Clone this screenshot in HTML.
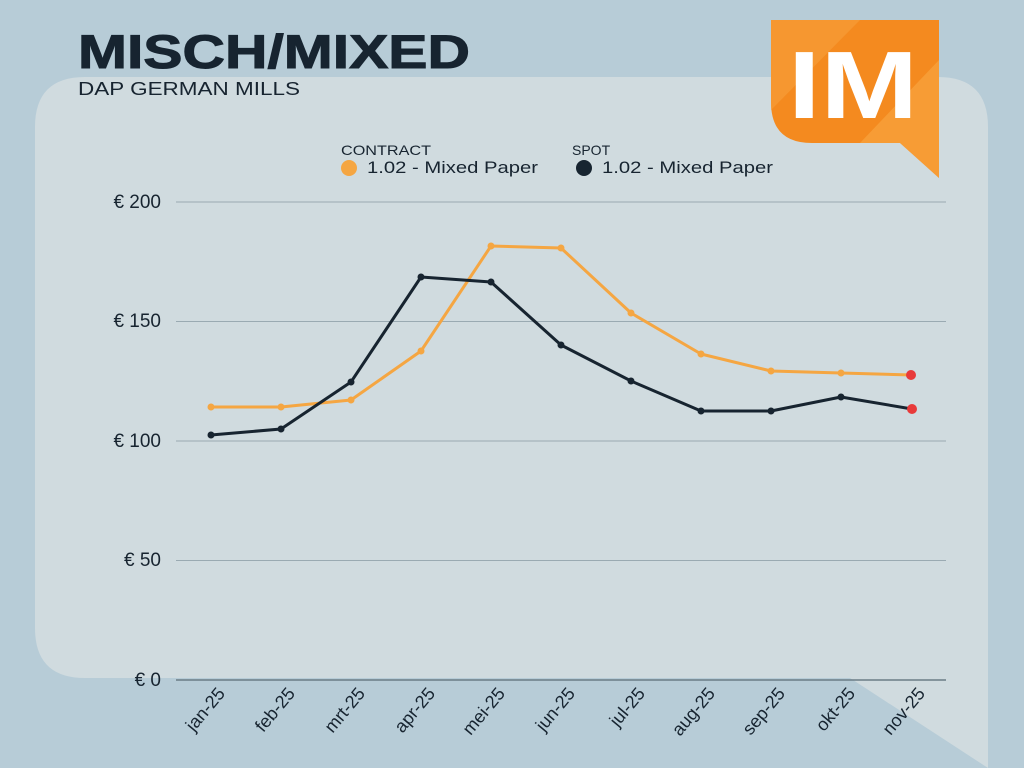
<!DOCTYPE html>
<html><head><meta charset="utf-8"><style>
body{margin:0;width:1024px;height:768px;overflow:hidden;background:#b7ccd7;font-family:"Liberation Sans",sans-serif}
</style></head><body>
<svg width="1024" height="768" viewBox="0 0 1024 768" style="position:absolute;left:0;top:0">
<path d="M85,77 H938 Q988,77 988,127 V768 L850,678 H85 Q35,678 35,628 V127 Q35,77 85,77 Z" fill="#d0dbdf"/>
<text x="78" y="68" font-size="47" font-weight="bold" fill="#172430" textLength="392" lengthAdjust="spacingAndGlyphs" stroke="#172430" stroke-width="1">MISCH/MIXED</text>
<text x="78" y="95" font-size="18" fill="#172430" textLength="222" lengthAdjust="spacingAndGlyphs">DAP GERMAN MILLS</text>
<g>
<path d="M771,20 H939 V178 L900,143 H812 Q771,143 771,102 Z" fill="#f48a1f"/>
<path d="M771,20 H860 L771,110 Z" fill="#f7a03c" opacity="0.6"/>
<path d="M860,143 L939,60 V178 L900,143 Z" fill="#f9a945" opacity="0.6"/>
<text x="788" y="118" font-size="96" font-weight="bold" fill="#fff" textLength="130" lengthAdjust="spacingAndGlyphs">IM</text>
</g>
<text x="341" y="155" font-size="14" fill="#172430" textLength="90" lengthAdjust="spacingAndGlyphs">CONTRACT</text>
<circle cx="349" cy="168" r="8" fill="#f5a642"/>
<text x="367" y="173" font-size="17" fill="#172430" textLength="171" lengthAdjust="spacingAndGlyphs">1.02 - Mixed Paper</text>
<text x="572" y="155" font-size="14" fill="#172430">SPOT</text>
<circle cx="584" cy="168" r="8" fill="#172430"/>
<text x="602" y="173" font-size="17" fill="#172430" textLength="171" lengthAdjust="spacingAndGlyphs">1.02 - Mixed Paper</text>
<g stroke="#9aaab2" stroke-width="1">
<line x1="176" x2="946" y1="202" y2="202"/><line x1="176" x2="946" y1="321.5" y2="321.5"/>
<line x1="176" x2="946" y1="441" y2="441"/><line x1="176" x2="946" y1="560.5" y2="560.5"/>
</g>
<line x1="176" x2="946" y1="680" y2="680" stroke="#6a7c86" stroke-width="1.5"/>
<g font-size="19" fill="#172430" text-anchor="end">
<text x="161" y="208">€ 200</text><text x="161" y="327">€ 150</text><text x="161" y="447">€ 100</text><text x="161" y="566">€ 50</text><text x="161" y="686">€ 0</text>
</g>
<g font-size="18" fill="#172430" text-anchor="end">
<text transform="translate(226,694) rotate(-50)">jan-25</text>
<text transform="translate(296,694) rotate(-50)">feb-25</text>
<text transform="translate(366,694) rotate(-50)">mrt-25</text>
<text transform="translate(436,694) rotate(-50)">apr-25</text>
<text transform="translate(506,694) rotate(-50)">mei-25</text>
<text transform="translate(576,694) rotate(-50)">jun-25</text>
<text transform="translate(646,694) rotate(-50)">jul-25</text>
<text transform="translate(716,694) rotate(-50)">aug-25</text>
<text transform="translate(786,694) rotate(-50)">sep-25</text>
<text transform="translate(856,694) rotate(-50)">okt-25</text>
<text transform="translate(926,694) rotate(-50)">nov-25</text>
</g>
<polyline fill="none" stroke="#f5a642" stroke-width="3" stroke-linejoin="round" points="211,407 281,407 351,400 421,351 491,246 561,248 631,313 701,354 771,371 841,373 912,375"/>
<polyline fill="none" stroke="#172430" stroke-width="3" stroke-linejoin="round" points="211,435 281,429 351,382 421,277 491,282 561,345 631,381 701,411 771,411 841,397 912,409"/>
<g fill="#f5a642"><circle cx="211" cy="407" r="3.5"/><circle cx="281" cy="407" r="3.5"/><circle cx="351" cy="400" r="3.5"/><circle cx="421" cy="351" r="3.5"/><circle cx="491" cy="246" r="3.5"/><circle cx="561" cy="248" r="3.5"/><circle cx="631" cy="313" r="3.5"/><circle cx="701" cy="354" r="3.5"/><circle cx="771" cy="371" r="3.5"/><circle cx="841" cy="373" r="3.5"/></g>
<g fill="#172430"><circle cx="211" cy="435" r="3.5"/><circle cx="281" cy="429" r="3.5"/><circle cx="351" cy="382" r="3.5"/><circle cx="421" cy="277" r="3.5"/><circle cx="491" cy="282" r="3.5"/><circle cx="561" cy="345" r="3.5"/><circle cx="631" cy="381" r="3.5"/><circle cx="701" cy="411" r="3.5"/><circle cx="771" cy="411" r="3.5"/><circle cx="841" cy="397" r="3.5"/></g>
<circle cx="911" cy="375" r="5" fill="#e83a3a"/><circle cx="912" cy="409" r="5" fill="#e83a3a"/>
</svg>
</body></html>
